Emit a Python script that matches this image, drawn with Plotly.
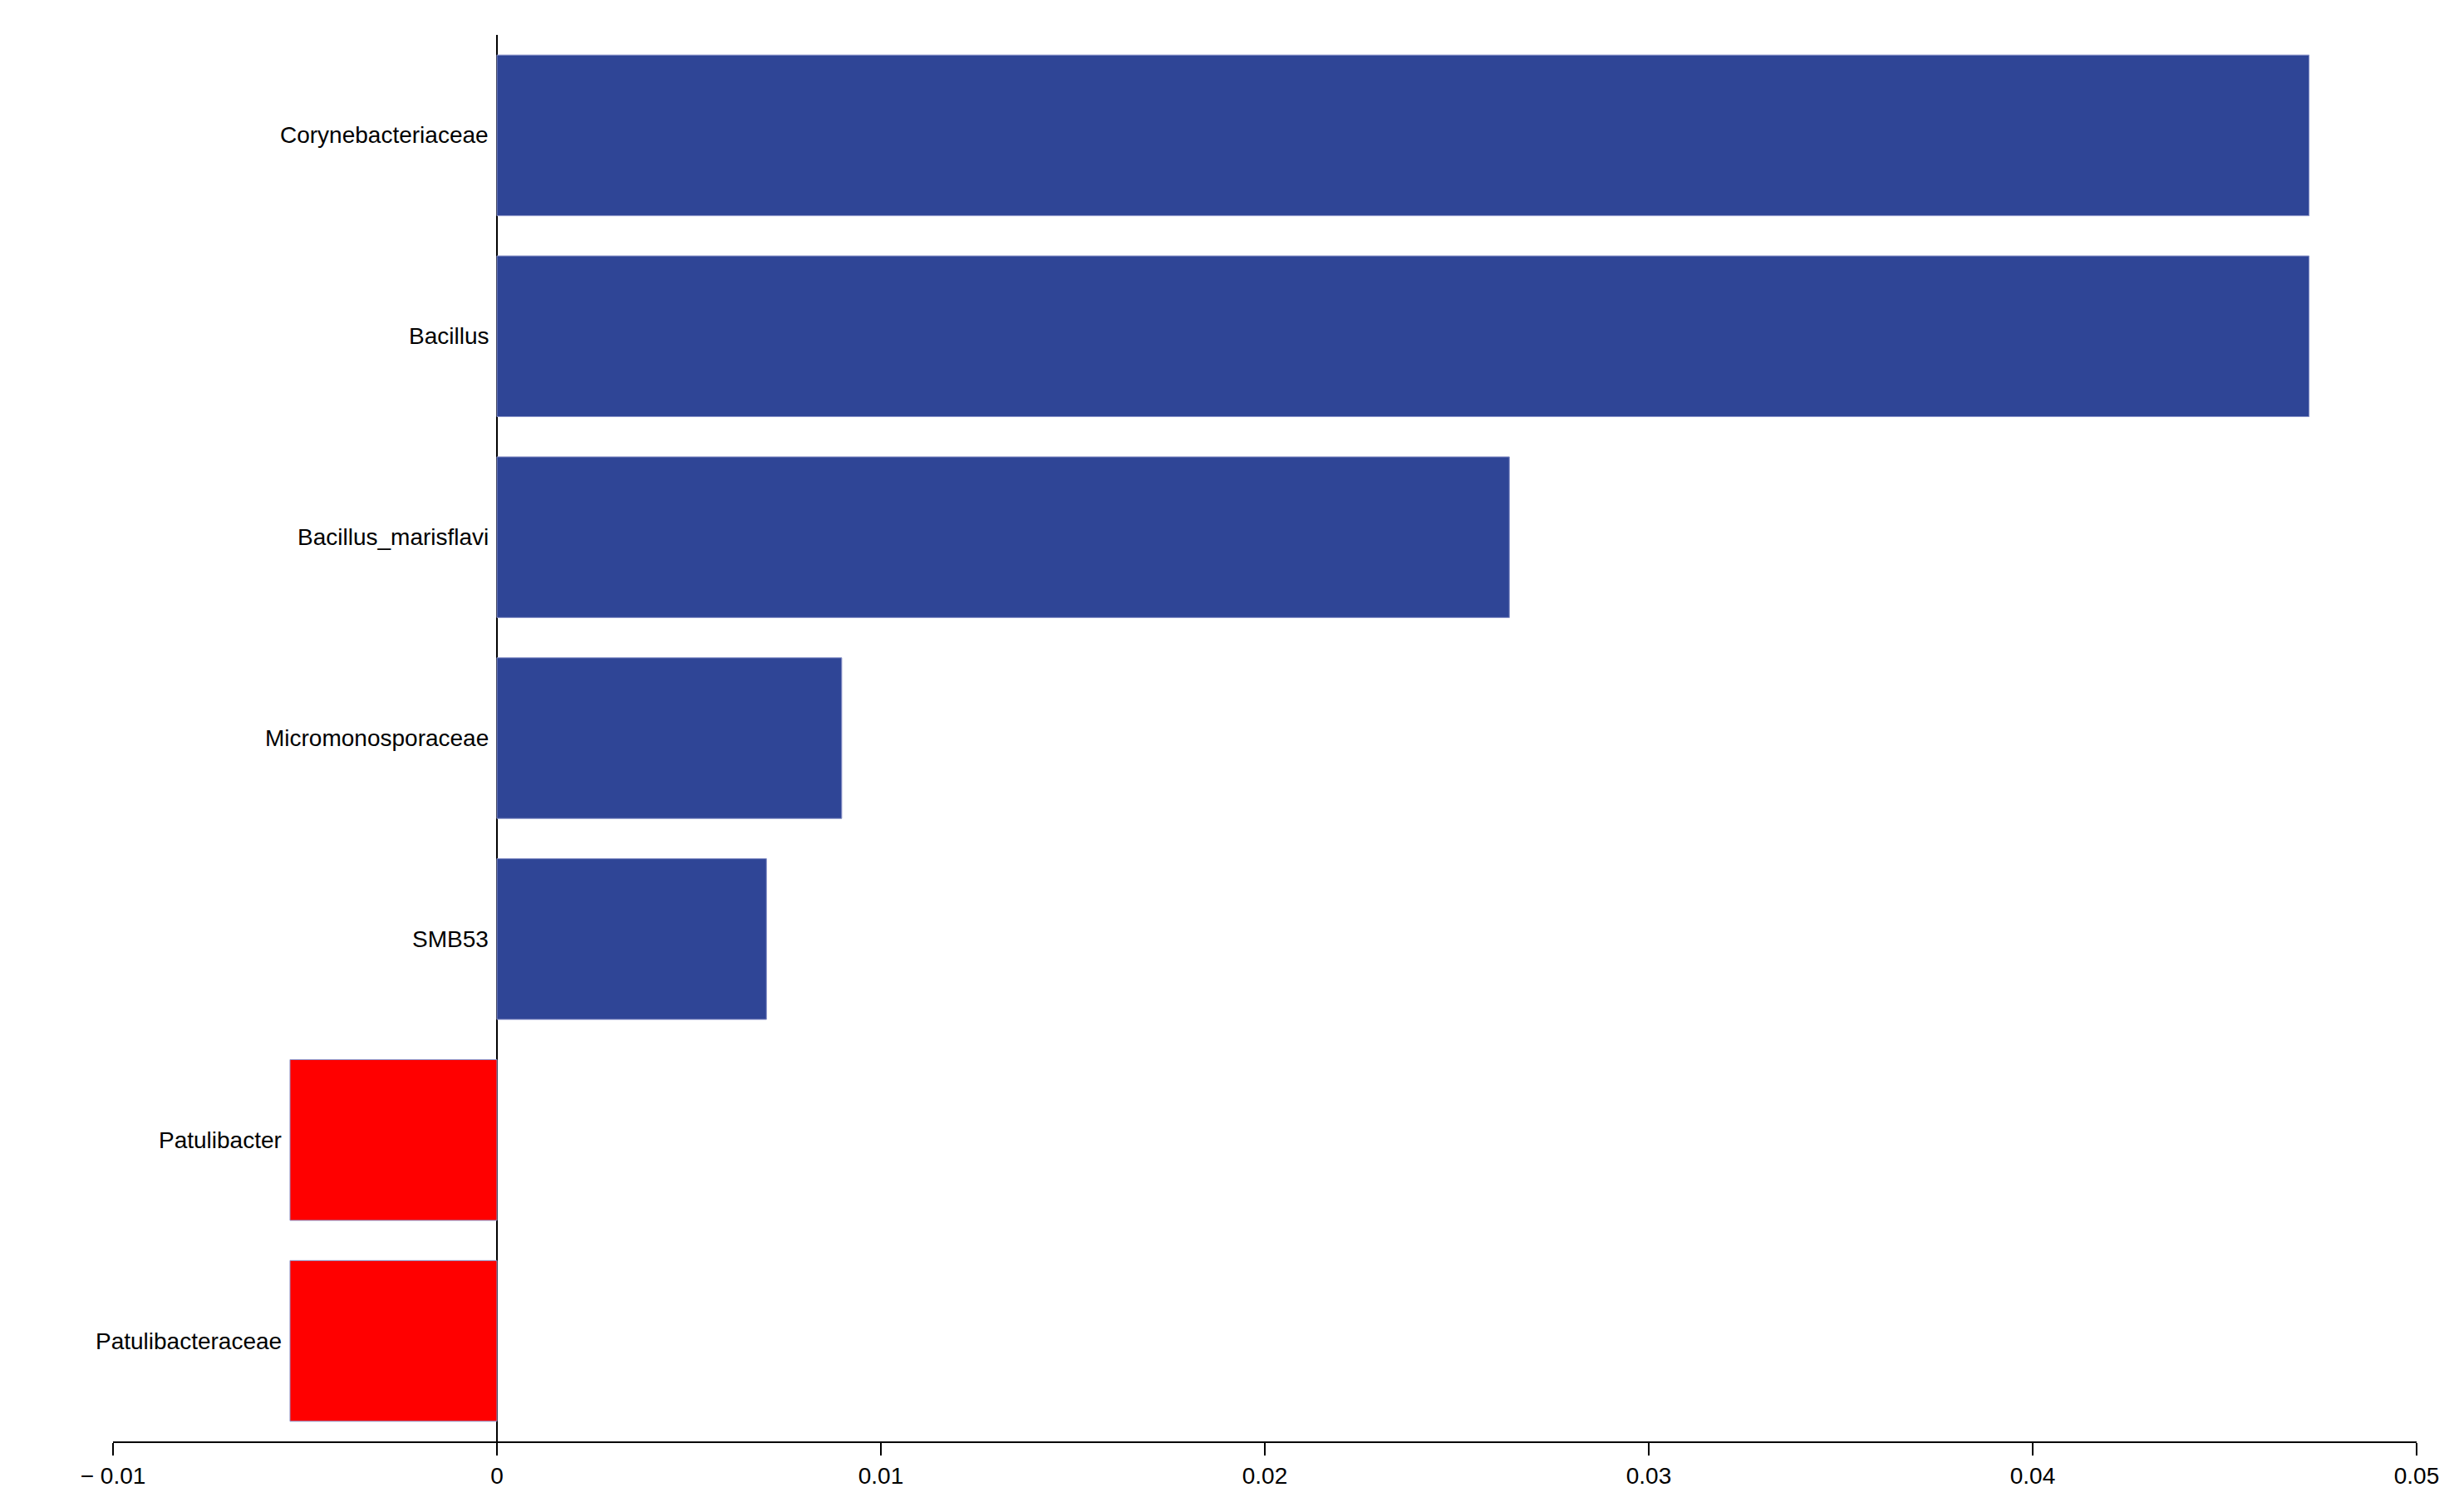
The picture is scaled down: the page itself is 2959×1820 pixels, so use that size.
import plotly.graph_objects as go

# Taxa and LDA-like effect values, top to bottom
taxa = ['Corynebacteriaceae', 'Bacillus', 'Bacillus_marisflavi', 'Micromonosporaceae',
        'SMB53', 'Patulibacter', 'Patulibacteraceae']
values = [0.0472, 0.0472, 0.02637, 0.00898, 0.00702, -0.00539, -0.00539]
tick_vals = [-0.01, 0, 0.01, 0.02, 0.03, 0.04, 0.05]
tick_text = ['\u2212 0.01', '0', '0.01', '0.02', '0.03', '0.04', '0.05']

colors = ['#2f4596' if v > 0 else '#ff0000' for v in values]

fig = go.Figure()
fig.add_trace(go.Bar(
    x=values,
    y=taxa,
    orientation='h',
    marker=dict(color=colors, line=dict(color='#8a93c8', width=1)),
    showlegend=False,
))

# Labels sit just left of each bar's leftmost point
for t, v in zip(taxa, values):
    fig.add_annotation(
        x=min(0, v), y=t, text=t, showarrow=False,
        xanchor='right', xshift=-8,
        font=dict(size=28, color='black', family='Liberation Sans'),
    )

fig.update_layout(
    width=2959, height=1820,
    plot_bgcolor='white', paper_bgcolor='white',
    margin=dict(l=128, r=59, t=34, b=93),
    bargap=0.2,
    font=dict(family='Liberation Sans', size=28, color='black'),
    xaxis=dict(
        range=[-0.01, 0.05], tickvals=tick_vals, ticktext=tick_text,
        showgrid=False, showline=True, linecolor='black', linewidth=2,
        ticks='outside', ticklen=15, tickwidth=2, tickcolor='black',
        zeroline=True, zerolinecolor='black', zerolinewidth=2,
    ),
    yaxis=dict(
        autorange='reversed', showticklabels=False, showgrid=False,
        showline=False, zeroline=False,
    ),
)

fig.write_html("out.html")
